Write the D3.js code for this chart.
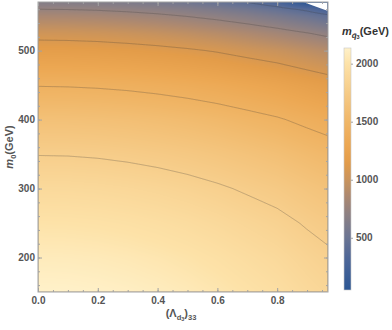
<!DOCTYPE html>
<html>
<head>
<meta charset="utf-8">
<script src="https://cdn.jsdelivr.net/npm/d3@7"></script>
<style>
  body { margin: 0; background: #fff; }
  svg { font-family: "Liberation Sans", Arial, sans-serif; display: block; }
</style>
</head>
<body>
<div id="chart"></div>
<script>
// grid columns: (Lambda_d3)_33
const lambdaVals = [0, 0.1, 0.2, 0.3, 0.4, 0.5, 0.6, 0.7, 0.8, 0.9, 1.0];
// grid rows: m0 (GeV)
const m0Vals = [150, 200, 250, 300, 350, 400, 450, 500, 525, 550, 560, 570];
const mSquark = [
  [2137, 2134, 2125, 2111, 2092, 2066, 2034, 1996, 1958, 1902, 1852],
  [2079, 2076, 2068, 2054, 2034, 2009, 1977, 1939, 1901, 1846, 1796],
  [2002, 1999, 1991, 1977, 1958, 1933, 1901, 1864, 1826, 1771, 1722],
  [1903, 1901, 1893, 1879, 1860, 1835, 1804, 1767, 1730, 1676, 1626],
  [1780, 1778, 1770, 1756, 1737, 1713, 1682, 1646, 1608, 1555, 1506],
  [1626, 1624, 1616, 1603, 1584, 1560, 1530, 1493, 1455, 1403, 1353],
  [1433, 1430, 1422, 1409, 1390, 1366, 1336, 1299, 1260, 1207, 1156],
  [1179, 1176, 1168, 1154, 1135, 1110, 1078, 1036,  996,  942,  885],
  [1034, 1030, 1020, 1002,  978,  947,  909,  864,  813,  753,  687],
  [ 840,  836,  824,  804,  777,  741,  700,  649,  586,  509,  409],
  [ 745,  741,  730,  710,  683,  646,  599,  540,  465,  363,  204],
  [ 647,  643,  630,  608,  576,  533,  475,  400,  292,   50,    0]
];
// contour lines (GeV)
const contourLevels = [400, 745, 1090, 1440, 1785];
// white corner where there is no solution, [lambda, m0]
const noSolution = [[0.877, 572], [0.975, 572], [0.975, 556.5]];

const xTicks = [0, 0.2, 0.4, 0.6, 0.8];
const xMinor = d3.range(0, 0.97, 0.05);
const yTicks = [200, 300, 400, 500];
const yMinor = d3.range(160, 571, 20);
const barTicks = [500, 1000, 1500, 2000];
const barRange = [50, 2135];

const W = 392, H = 330;
const PLOT = { LEFT: 38, TOP: 2, WIDTH: 290, HEIGHT: 290 };
const BAR = { LEFT: 344, TOP: 48, WIDTH: 7, HEIGHT: 242 };

const svg = d3.select('#chart')
  .append('svg')
    .attr('width', W)
    .attr('height', H);

const x = d3.scaleLinear()
  .domain([0, 0.97])
  .range([PLOT.LEFT, PLOT.LEFT + PLOT.WIDTH]);

const y = d3.scaleLinear()
  .domain([150, 570.5])
  .range([PLOT.TOP + PLOT.HEIGHT, PLOT.TOP]);

// colour ramp (blue - grey - orange - pale yellow)
const color = d3.scaleLinear()
  .domain([50, 300, 500, 700, 850, 1000, 1150, 1300, 1500, 1750, 2000, 2135])
  .range(['#2b5694', '#4b6598', '#6a7493', '#8d8083', '#ab8871', '#c9935c',
           '#e39c49', '#eca752', '#f0b667', '#f6cb87', '#fde2a8', '#fff1c9'])
  .clamp(true);

// grid index scales (rows are not evenly spaced)
const colIdx = d3.scaleLinear().domain(lambdaVals).range(d3.range(lambdaVals.length)).clamp(true);
const rowIdx = d3.scaleLinear().domain(m0Vals).range(d3.range(m0Vals.length)).clamp(true);

function field(l, m) {
  const fx = colIdx(l), fy = rowIdx(m);
  const i0 = Math.min(Math.floor(fx), lambdaVals.length - 2);
  const j0 = Math.min(Math.floor(fy), m0Vals.length - 2);
  const tx = fx - i0, ty = fy - j0;
  const a = mSquark[j0][i0] * (1 - tx) + mSquark[j0][i0 + 1] * tx;
  const b = mSquark[j0 + 1][i0] * (1 - tx) + mSquark[j0 + 1][i0 + 1] * tx;
  return a * (1 - ty) + b * ty;
}

// density image, one value per screen pixel
const values = new Float64Array(PLOT.WIDTH * PLOT.HEIGHT);
const canvas = document.createElement('canvas');
canvas.width = PLOT.WIDTH;
canvas.height = PLOT.HEIGHT;
const ctx = canvas.getContext('2d');
const img = ctx.createImageData(PLOT.WIDTH, PLOT.HEIGHT);
for (let j = 0; j < PLOT.HEIGHT; j++) {
  const m = y.invert(PLOT.TOP + j + 0.5);
  for (let i = 0; i < PLOT.WIDTH; i++) {
    const l = x.invert(PLOT.LEFT + i + 0.5);
    const v = field(l, m);
    const k = j * PLOT.WIDTH + i;
    values[k] = v;
    const c = d3.rgb(color(v));
    img.data[k * 4] = c.r;
    img.data[k * 4 + 1] = c.g;
    img.data[k * 4 + 2] = c.b;
    img.data[k * 4 + 3] = 255;
  }
}
ctx.putImageData(img, 0, 0);

svg.append('defs').append('clipPath')
    .attr('id', 'plot-clip')
  .append('rect')
    .attr('x', PLOT.LEFT + 0.7)
    .attr('y', PLOT.TOP + 0.7)
    .attr('width', PLOT.WIDTH - 1.4)
    .attr('height', PLOT.HEIGHT - 1.4);

svg.append('image')
  .attr('x', PLOT.LEFT)
  .attr('y', PLOT.TOP)
  .attr('width', PLOT.WIDTH)
  .attr('height', PLOT.HEIGHT)
  .attr('href', canvas.toDataURL());

// contour lines
const contours = d3.contours()
  .size([PLOT.WIDTH, PLOT.HEIGHT])
  .thresholds(contourLevels)(values);

svg.append('g')
    .attr('clip-path', 'url(#plot-clip)')
  .append('g')
    .attr('transform', `translate(${PLOT.LEFT}, ${PLOT.TOP})`)
  .selectAll('path')
  .data(contours)
  .enter().append('path')
    .attr('d', d3.geoPath())
    .attr('fill', 'none')
    .attr('stroke', '#3a3a3a')
    .attr('stroke-opacity', 0.3)
    .attr('stroke-width', 0.9);

// no-solution corner
svg.append('path')
  .attr('clip-path', 'url(#plot-clip)')
  .attr('d', d3.line().x(d => x(d[0])).y(d => y(d[1]))(noSolution) + 'Z')
  .attr('fill', '#fff');

// frame
svg.append('rect')
  .attr('x', PLOT.LEFT)
  .attr('y', PLOT.TOP)
  .attr('width', PLOT.WIDTH)
  .attr('height', PLOT.HEIGHT)
  .attr('fill', 'none')
  .attr('stroke', '#a3a3a3')
  .attr('stroke-width', 1);

// axes: ticks inside the frame, mirrored on top and right
function styleAxis(g) {
  g.select('.domain').remove();
  g.selectAll('.tick line').attr('stroke', '#a3a3a3');
  g.selectAll('.tick text')
    .attr('fill', '#555')
    .attr('font-size', 10)
    .attr('font-weight', 'bold')
    .attr('font-family', '"Liberation Sans", Arial, sans-serif');
}

const bottom = PLOT.TOP + PLOT.HEIGHT, right = PLOT.LEFT + PLOT.WIDTH;

svg.append('g')
  .attr('transform', `translate(0, ${bottom})`)
  .call(d3.axisBottom(x).tickValues(xTicks).tickSize(-4).tickPadding(5).tickFormat(d3.format('.1f')))
  .call(styleAxis);
svg.append('g')
  .attr('transform', `translate(0, ${bottom})`)
  .call(d3.axisBottom(x).tickValues(xMinor).tickSize(-2).tickFormat(''))
  .call(styleAxis);
svg.append('g')
  .attr('transform', `translate(0, ${PLOT.TOP})`)
  .call(d3.axisTop(x).tickValues(xTicks).tickSize(-4).tickFormat(''))
  .call(styleAxis);
svg.append('g')
  .attr('transform', `translate(0, ${PLOT.TOP})`)
  .call(d3.axisTop(x).tickValues(xMinor).tickSize(-2).tickFormat(''))
  .call(styleAxis);

svg.append('g')
  .attr('transform', `translate(${PLOT.LEFT}, 0)`)
  .call(d3.axisLeft(y).tickValues(yTicks).tickSize(-4).tickPadding(3))
  .call(styleAxis);
svg.append('g')
  .attr('transform', `translate(${PLOT.LEFT}, 0)`)
  .call(d3.axisLeft(y).tickValues(yMinor).tickSize(-2).tickFormat(''))
  .call(styleAxis);
svg.append('g')
  .attr('transform', `translate(${right}, 0)`)
  .call(d3.axisRight(y).tickValues(yTicks).tickSize(-4).tickFormat(''))
  .call(styleAxis);
svg.append('g')
  .attr('transform', `translate(${right}, 0)`)
  .call(d3.axisRight(y).tickValues(yMinor).tickSize(-2).tickFormat(''))
  .call(styleAxis);

// x axis label (Λ_d3)_33
const xLabel = svg.append('text')
  .attr('x', 181)
  .attr('y', 317)
  .attr('text-anchor', 'middle')
  .attr('fill', '#555')
  .attr('font-size', 11)
  .attr('font-weight', 'bold');
xLabel.append('tspan').text('(Λ');
xLabel.append('tspan').attr('font-size', 7.5).attr('dy', 2.5).text('d');
xLabel.append('tspan').attr('font-size', 5.5).attr('dy', 1.5).text('3');
xLabel.append('tspan').attr('dy', -4).text(')');
xLabel.append('tspan').attr('font-size', 7.5).attr('dy', 2.5).text('33');

// y axis label m_0(GeV)
const yLabel = svg.append('text')
  .attr('transform', 'translate(13, 147) rotate(-90)')
  .attr('text-anchor', 'middle')
  .attr('fill', '#555')
  .attr('font-size', 11)
  .attr('font-weight', 'bold');
yLabel.append('tspan').attr('font-style', 'italic').text('m');
yLabel.append('tspan').attr('font-size', 7.5).attr('dy', 2.5).text('0');
yLabel.append('tspan').attr('dy', -2.5).text('(GeV)');

// colour bar
const bar = d3.scaleLinear()
  .domain(barRange)
  .range([BAR.TOP + BAR.HEIGHT, BAR.TOP]);

const grad = svg.select('defs').append('linearGradient')
  .attr('id', 'bar-grad')
  .attr('x1', 0).attr('y1', 1)
  .attr('x2', 0).attr('y2', 0);
grad.selectAll('stop')
  .data(d3.range(0, 1.0001, 0.02))
  .enter().append('stop')
    .attr('offset', d => d)
    .attr('stop-color', d => color(barRange[0] + d * (barRange[1] - barRange[0])));

svg.append('rect')
  .attr('x', BAR.LEFT)
  .attr('y', BAR.TOP)
  .attr('width', BAR.WIDTH)
  .attr('height', BAR.HEIGHT)
  .attr('fill', 'url(#bar-grad)')
  .attr('stroke', '#c8c8c8')
  .attr('stroke-width', 0.6);

svg.append('g')
  .attr('transform', `translate(${BAR.LEFT + BAR.WIDTH}, 0)`)
  .call(d3.axisRight(bar).tickValues(barTicks).tickSize(2).tickPadding(3).tickFormat(d3.format('d')))
  .call(styleAxis);

// colour bar title m_{q~_3}(GeV)
const title = svg.append('text')
  .attr('x', 389)
  .attr('y', 35)
  .attr('text-anchor', 'end')
  .attr('fill', '#333')
  .attr('font-size', 11)
  .attr('font-weight', 'bold');
title.append('tspan').attr('font-style', 'italic').text('m');
title.append('tspan').attr('font-style', 'italic').attr('font-size', 8).attr('dy', 2.5).text('q\u0303');
title.append('tspan').attr('font-size', 5.5).attr('dy', 1.5).text('3');
title.append('tspan').attr('dy', -4).text('(GeV)');
</script>
</body>
</html>
